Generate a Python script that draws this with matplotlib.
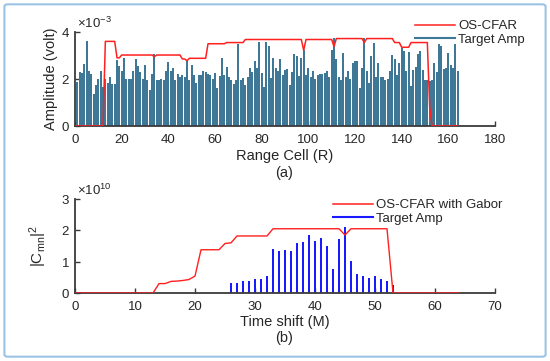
import numpy as np
import matplotlib
matplotlib.use('Agg')
import matplotlib.pyplot as plt
from matplotlib.patches import FancyBboxPatch
from matplotlib.lines import Line2D

plt.rcParams['font.family'] = ['Liberation Sans', 'DejaVu Sans']
plt.rcParams['mathtext.default'] = 'regular'

# (a) target amplitude per range cell, in units of 1e-3 volt
cells = list(range(1, 165))
amp = [1.86, 2.28, 2.25, 2.65, 3.6, 2.36, 2.2, 1.37, 1.75, 2.02,
       2.36, 1.68, 2.02, 1.85, 2.1, 1.77, 1.78, 2.82, 2.56, 2.36,
       2.88, 2.0, 2.0, 2.0, 2.35, 2.86, 2.56, 2.28, 2.02, 2.6,
       1.94, 1.54, 2.2, 3.07, 1.96, 1.96, 2.02, 1.94, 2.35, 2.73,
       2.36, 2.48, 1.96, 2.22, 2.1, 2.16, 2.08, 2.8, 1.96, 2.6,
       2.16, 1.85, 2.15, 2.16, 2.35, 2.28, 2.2, 2.18, 2.0, 2.25,
       1.6, 2.13, 2.9, 2.16, 2.5, 2.08, 1.96, 1.8, 1.94, 3.5,
       1.94, 2.03, 1.75, 2.08, 2.48, 2.3, 2.76, 2.45, 3.56, 2.25,
       1.68, 3.56, 3.4, 2.05, 2.9, 2.46, 2.32, 2.85, 2.18, 2.4,
       2.42, 1.75, 2.28, 3.06, 2.96, 2.14, 2.89, 3.25, 2.16, 2.48,
       2.1, 2.36, 2.02, 2.16, 2.2, 2.22, 2.25, 2.32, 2.08, 3.25,
       3.74, 2.85, 2.08, 1.96, 3.1, 2.08, 2.32, 1.99, 2.7, 2.75,
       2.75, 1.6, 2.46, 3.74, 2.36, 1.82, 2.96, 3.53, 2.1, 2.68,
       2.1, 2.08, 1.94, 2.02, 2.32, 3.0, 2.85, 2.18, 2.7, 3.3,
       3.2, 2.36, 3.16, 1.7, 2.4, 2.53, 3.07, 3.2, 2.4, 1.96,
       1.94, 1.9, 1.94, 2.68, 2.28, 3.5, 3.4, 2.42, 2.48, 3.1,
       2.6, 2.46, 3.49, 2.33]

# (a) OS-CFAR threshold, polyline vertices (1e-3 volt)
cfar_x = [0, 12, 13, 17, 18, 19, 20, 33, 34, 35, 45, 46, 47, 48, 49, 56, 57,
          64, 65, 72, 73, 97, 98, 99, 110, 111, 112, 123, 124, 125, 136, 137,
          139, 140, 143, 144, 151, 152, 153, 164]
cfar_y = [0, 0, 3.6, 3.6, 2.9, 2.9, 3.02, 3.02, 2.95, 3.02, 3.02, 2.85, 2.85,
          2.78, 2.88, 2.88, 3.5, 3.5, 3.55, 3.55, 3.68, 3.68, 3.22, 3.68, 3.68,
          3.38, 3.72, 3.72, 3.55, 3.72, 3.72, 3.55, 3.55, 3.35, 3.35, 3.55,
          3.55, 0.8, 0, 0]

# (b) target amplitude vs time shift, in units of 1e10
shift = list(range(26, 54))
camp = [0.31, 0.31, 0.38, 0.38, 0.44, 0.44, 0.53, 1.4, 1.35, 1.37,
        1.35, 1.6, 1.63, 1.84, 1.65, 1.77, 1.49, 0.77, 1.72, 2.09,
        1.02, 0.6, 0.55, 0.49, 0.54, 0.44, 0.38, 0.27]

# (b) OS-CFAR with Gabor threshold vertices (1e10)
gab_x = [0, 13, 14, 15, 16, 17, 18, 19, 20, 21, 24, 25, 26, 27, 32, 33, 44,
         45, 46, 52, 53, 64]
gab_y = [0, 0, 0.3, 0.3, 0.37, 0.38, 0.4, 0.43, 0.54, 1.38, 1.38, 1.58, 1.6,
         1.82, 1.82, 2.05, 2.05, 1.85, 2.05, 2.05, 0, 0]

TXT = '#262626'
BAR = '#3f7797'
RED = '#ff2020'
BLUE = '#1a1aff'


def style(ax, exp_txt, base_px):
    for s in ['top', 'right']:
        ax.spines[s].set_visible(False)
    for s in ['left', 'bottom']:
        ax.spines[s].set_color('#3a3a3a')
        ax.spines[s].set_linewidth(1.3)
    ax.tick_params(direction='in', length=3.5, width=1, colors='#3a3a3a',
                   labelcolor=TXT, labelsize=9.5)
    ax.tick_params(axis='x', pad=6)
    ax.ticklabel_format(style='sci', axis='y', scilimits=(0, 0), useMathText=True)
    ax.yaxis.get_offset_text().set_visible(False)
    fig.text(77 / 550, 1 - base_px / 361, exp_txt, fontsize=9.5, color=TXT,
             ha='left', va='baseline')


fig = plt.figure(figsize=(5.5, 3.61), dpi=100)
fig.patches.append(FancyBboxPatch((0.008, 0.012), 0.984, 0.976,
                                  boxstyle='round,pad=0,rounding_size=0.006',
                                  transform=fig.transFigure, fill=False,
                                  edgecolor='#9cc2e5', linewidth=1.5))

ax1 = fig.add_axes([0.1364, 0.651, 0.7636, 0.2604])
ax1.bar(cells, np.array(amp) * 1e-3, width=0.75, color=BAR, zorder=2)
ax1.plot(cfar_x, np.array(cfar_y) * 1e-3, color=RED, lw=1.1, zorder=3)
ax1.set_xlim(0, 180)
ax1.set_ylim(0, 4e-3)
ax1.set_xticks(range(0, 181, 20))
ax1.set_yticks([0, 2e-3, 4e-3])
style(ax1, r'$\times10^{-3}$', 28.5)
ax1.set_ylabel('Amplitude (volt)', fontsize=10.5, color=TXT, labelpad=2)
ax1.set_xlabel('Range Cell (R)', fontsize=10.5, color=TXT, labelpad=2)
fig.text(0.517, 1 - 173 / 361, '(a)', fontsize=10.5, color=TXT, ha='center', va='center')
leg_h = [Line2D([], [], color=RED, lw=1.1), Line2D([], [], color=BAR, lw=1.5)]
ax1.legend(leg_h, ['OS-CFAR', 'Target Amp'], loc='upper left', frameon=False,
           fontsize=9.5, handlelength=3.0, labelspacing=0.1, handletextpad=0.25,
           borderpad=0, borderaxespad=0,
           bbox_to_anchor=(415 / 550, 1 - 20 / 361), bbox_transform=fig.transFigure,
           labelcolor=TXT)

ax2 = fig.add_axes([0.1364, 0.1884, 0.7636, 0.2604])
ax2.bar(shift, np.array(camp) * 1e10, width=0.33, color=BLUE, zorder=2)
ax2.plot(gab_x, np.array(gab_y) * 1e10, color=RED, lw=1.0, zorder=3)
ax2.set_xlim(0, 70)
ax2.set_ylim(0, 3e10)
ax2.set_xticks(range(0, 71, 10))
ax2.set_yticks([0, 1e10, 2e10, 3e10])
style(ax2, r'$\times10^{10}$', 195)
ax2.set_ylabel('|C$_{mn}$|$^2$', fontsize=11, color=TXT, labelpad=9)
ax2.set_xlabel('Time shift (M)', fontsize=10.5, color=TXT, labelpad=1)
fig.text(0.517, 1 - 338 / 361, '(b)', fontsize=10.5, color=TXT, ha='center', va='center')
leg_h2 = [Line2D([], [], color=RED, lw=1.1), Line2D([], [], color=BLUE, lw=1.5)]
ax2.legend(leg_h2, ['OS-CFAR with Gabor', 'Target Amp'], loc='upper left', frameon=False,
           fontsize=9.5, handlelength=3.0, labelspacing=0.1, handletextpad=0.25,
           borderpad=0, borderaxespad=0,
           bbox_to_anchor=(333 / 550, 1 - 199 / 361), bbox_transform=fig.transFigure,
           labelcolor=TXT)

fig.savefig('out.png', dpi=100)
